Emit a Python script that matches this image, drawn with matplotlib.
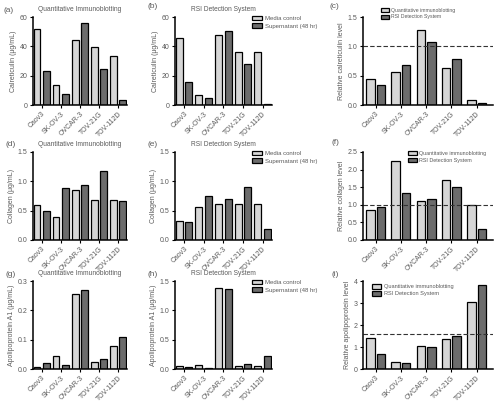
import numpy as np
import matplotlib
matplotlib.use('Agg')
import matplotlib.pyplot as plt

plt.rcParams['font.family'] = ['Liberation Sans', 'DejaVu Sans']
plt.rcParams['font.size'] = 5

cells = ['Caov3', 'SK-OV-3', 'OVCAR-3', 'TOV-21G', 'TOV-112D']

# calreticulin (ug/mL): media control, supernatant (48 hr)
cal_qi_media = [52, 13.9, 44, 39.5, 33.6]
cal_qi_super = [23, 7.7, 56, 24.8, 3.2]
cal_rsi_media = [46, 7.1, 47.8, 35.9, 35.9]
cal_rsi_super = [15.6, 4.8, 50.6, 28, 0.9]
cal_rel_qi = [0.44, 0.555, 1.27, 0.63, 0.085]
cal_rel_rsi = [0.345, 0.69, 1.07, 0.79, 0.035]

# collagen
col_qi_media = [0.59, 0.40, 0.855, 0.69, 0.69]
col_qi_super = [0.50, 0.89, 0.94, 1.17, 0.67]
col_rsi_media = [0.33, 0.565, 0.61, 0.61, 0.61]
col_rsi_super = [0.31, 0.75, 0.70, 0.91, 0.185]
col_rel_qi = [0.86, 2.25, 1.12, 1.70, 0.99]
col_rel_rsi = [0.94, 1.33, 1.17, 1.50, 0.31]

# apolipoprotein A1
apo_qi_media = [0.007, 0.044, 0.257, 0.024, 0.078]
apo_qi_super = [0.020, 0.014, 0.271, 0.034, 0.110]
apo_rsi_media = [0.057, 0.069, 1.38, 0.057, 0.057]
apo_rsi_super = [0.034, 0.017, 1.36, 0.092, 0.23]
apo_rel_qi = [1.42, 0.32, 1.06, 1.38, 3.06]
apo_rel_rsi = [0.67, 0.29, 0.98, 1.50, 3.82]

ref_lines = [1.0, 1.0, 1.6]

LIGHT = '#d6d6d6'
DARK = '#6c6c6c'
TXT = '#5a5a5a'
fmt1 = matplotlib.ticker.FormatStrFormatter('%.1f')

fig = plt.figure(figsize=(4.95, 4.03), dpi=100)

lefts = [33, 175, 363]
widths = [94, 97, 130]
tops = [17, 152, 281]
H = 88


def make_ax(r, c):
    l = lefts[c] / 495
    b = 1 - (tops[r] + H) / 403
    ax = fig.add_axes([l, b, widths[c] / 495, H / 403])
    for s in ['top', 'right']:
        ax.spines[s].set_visible(False)
    for s in ['left', 'bottom']:
        ax.spines[s].set_linewidth(1.1)
    ax.tick_params(labelcolor=TXT, labelsize=5, length=2.5, width=0.8, pad=1.5, color='black')
    return ax


def paired(ax, media, sup, ylim, yticks, ylabel, title, legend):
    x = np.arange(10)
    vals = np.ravel(np.column_stack([media, sup]))
    cols = [LIGHT, DARK] * 5
    bars = ax.bar(x, vals, width=0.72, color=cols, edgecolor='black', linewidth=0.9)
    ax.set_xlim(-0.42, 9.45)
    ax.set_ylim(*ylim)
    ax.set_yticks(yticks)
    ax.set_xticks(np.arange(0.5, 10, 2))
    ax.set_xticklabels(cells, rotation=45, ha='right', rotation_mode='anchor')
    ax.set_ylabel(ylabel, color=TXT, labelpad=2, fontsize=5)
    ax.set_title(title, color=TXT, fontsize=4.8, pad=4)
    if legend:
        ax.legend([bars[0], bars[1]], ['Media control', 'Supernatant (48 hr)'],
                  loc='upper left', bbox_to_anchor=(0.77, 1.04), frameon=False,
                  fontsize=4.3, labelcolor=TXT, handlelength=1.7, handleheight=0.8,
                  handletextpad=0.5, labelspacing=0.35, borderaxespad=0)


def relative(ax, qi, rsi, ylim, yticks, ylabel, ref, anchor, fs):
    x = np.arange(5)
    b1 = ax.bar(x - 0.21, qi, width=0.34, color=LIGHT, edgecolor='black', linewidth=0.9)
    b2 = ax.bar(x + 0.21, rsi, width=0.34, color=DARK, edgecolor='black', linewidth=0.9)
    ax.set_xlim(-0.5, 4.65)
    ax.set_ylim(*ylim)
    ax.set_yticks(yticks)
    ax.set_xticks(x)
    ax.set_xticklabels(cells, rotation=45, ha='right', rotation_mode='anchor')
    ax.set_ylabel(ylabel, color=TXT, labelpad=2, fontsize=5)
    ax.axhline(ref, color='#333333', linestyle=(0, (4, 2)), linewidth=0.8)
    ax.legend([b1, b2], ['Quantitative immunoblotting', 'RSI Detection System'],
              loc='upper left', bbox_to_anchor=anchor, frameon=False,
              fontsize=fs, labelcolor=TXT, handlelength=1.6, handleheight=0.8,
              handletextpad=0.5, labelspacing=0.35, borderaxespad=0)


ax = make_ax(0, 0)
paired(ax, cal_qi_media, cal_qi_super, (0, 60), [0, 20, 40, 60],
       'Calreticulin (μg/mL)', 'Quantitative Immunoblotting', False)
ax = make_ax(0, 1)
paired(ax, cal_rsi_media, cal_rsi_super, (0, 60), [0, 20, 40, 60],
       'Calreticulin (μg/mL)', 'RSI Detection System', True)
ax = make_ax(0, 2)
relative(ax, cal_rel_qi, cal_rel_rsi, (0, 1.5), [0, 0.5, 1.0, 1.5],
         'Relative calreticulin level', ref_lines[0], (0.12, 1.13), 3.7)
ax.yaxis.set_major_formatter(fmt1)

ax = make_ax(1, 0)
paired(ax, col_qi_media, col_qi_super, (0, 1.5), [0, 0.5, 1.0, 1.5],
       'Collagen (μg/mL)', 'Quantitative Immunoblotting', False)
ax.yaxis.set_major_formatter(fmt1)
ax = make_ax(1, 1)
paired(ax, col_rsi_media, col_rsi_super, (0, 1.5), [0, 0.5, 1.0, 1.5],
       'Collagen (μg/mL)', 'RSI Detection System', True)
ax.yaxis.set_major_formatter(fmt1)
ax = make_ax(1, 2)
relative(ax, col_rel_qi, col_rel_rsi, (0, 2.5), [0, 0.5, 1.0, 1.5, 2.0, 2.5],
         'Relative collagen level', ref_lines[1], (0.33, 1.04), 3.9)
ax.yaxis.set_major_formatter(fmt1)

ax = make_ax(2, 0)
paired(ax, apo_qi_media, apo_qi_super, (0, 0.3), [0, 0.1, 0.2, 0.3],
       'Apolipoprotein A1 (μg/mL)', 'Quantitative Immunoblotting', False)
ax.yaxis.set_major_formatter(fmt1)
ax = make_ax(2, 1)
paired(ax, apo_rsi_media, apo_rsi_super, (0, 1.5), [0, 0.5, 1.0, 1.5],
       'Apolipoprotein A1 (μg/mL)', 'RSI Detection System', True)
ax.yaxis.set_major_formatter(fmt1)
ax = make_ax(2, 2)
relative(ax, apo_rel_qi, apo_rel_rsi, (0, 4), [0, 1, 2, 3, 4],
         'Relative apolipoprotein level', ref_lines[2], (0.05, 0.99), 4.1)

# panel letters
letters = [('(a)', 4, 10), ('(b)', 147, 7), ('(c)', 330, 6),
           ('(d)', 5, 145), ('(e)', 147, 145), ('(f)', 331, 143),
           ('(g)', 5, 275), ('(h)', 147, 275), ('(i)', 332, 275)]
for t, px, py in letters:
    fig.text(px / 495, 1 - py / 403, t, fontsize=6, color=TXT, va='center', ha='left')

plt.savefig('out.png', dpi=100)
